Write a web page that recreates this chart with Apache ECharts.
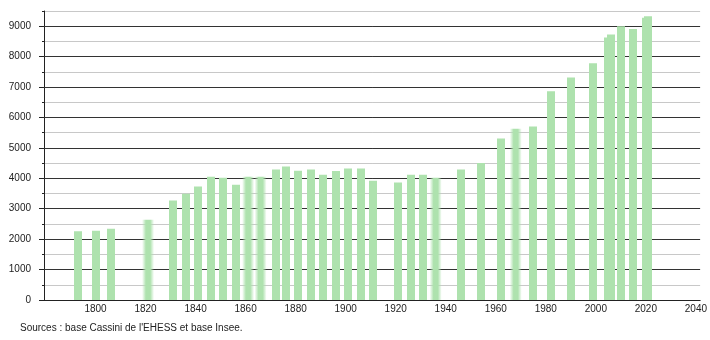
<!DOCTYPE html>
<html>
<head>
<meta charset="utf-8">
<script src="https://cdn.jsdelivr.net/npm/echarts@6/dist/echarts.min.js"></script>
<style>
html,body{margin:0;padding:0;background:#fff;}
#chart{width:710px;height:340px;}
</style>
</head>
<body>
<div id="chart"></div>
<script>
// Data
const years = [1793,1800,1806,1821,1831,1836,1841,1846,1851,1856,1861,1866,1872,1876,1881,1886,1891,1896,1901,1906,1911,1921,1926,1931,1936,1946,1954,1962,1968,1975,1982,1990,1999,2005,2006,2010,2015,2020,2021];
const population = [2260,2280,2340,2640,3270,3490,3730,4050,4020,3790,4050,4050,4290,4390,4250,4290,4120,4240,4320,4320,3920,3860,4120,4120,4020,4290,4500,5310,5630,5700,6860,7310,7780,8625,8730,9000,8910,9280,9330];
const fadedYears = [1821,1861,1866,1936,1968];
const xTickLabels = [1800,1820,1840,1860,1880,1900,1920,1940,1960,1980,2000,2020,2040];
const yMajorTicks = [0,1000,2000,3000,4000,5000,6000,7000,8000,9000];
const yMinorTicks = [500,1500,2500,3500,4500,5500,6500,7500,8500,9500];
const sourceText = "Sources : base Cassini de l'EHESS et base Insee.";

const solid = 'rgba(174,226,174,1)';
const clear = 'rgba(174,226,174,0)';
// 12px wide bar slot: normal bars are a hard-edged 8px core, faded bars have soft edges
const normalColor = {
  type: 'linear', x: 0, y: 0, x2: 1, y2: 0,
  colorStops: [
    {offset: 0, color: clear}, {offset: 0.1667, color: clear},
    {offset: 0.1667, color: solid}, {offset: 0.8333, color: solid},
    {offset: 0.8333, color: clear}, {offset: 1, color: clear}
  ]
};
const fadedColor = {
  type: 'linear', x: 0, y: 0, x2: 1, y2: 0,
  colorStops: [
    {offset: 0, color: clear},
    {offset: 0.32, color: solid},
    {offset: 0.68, color: solid},
    {offset: 1, color: clear}
  ]
};

const barData = years.map((y, i) => ({
  value: [y, population[i]],
  itemStyle: { color: fadedYears.includes(y) ? fadedColor : normalColor }
}));

const chart = echarts.init(document.getElementById('chart'), null, {renderer: 'canvas'});
const font = 'Liberation Sans, Arial, sans-serif';
chart.setOption({
  animation: false,
  backgroundColor: '#fff',
  grid: { left: 44, right: 9, top: 11, bottom: 40, containLabel: false },
  xAxis: {
    type: 'value',
    min: 1779.4,
    max: 2041.7,
    axisLine: { show: true, lineStyle: { color: '#222', width: 1 } },
    axisTick: { show: false },
    splitLine: { show: false },
    axisLabel: {
      customValues: xTickLabels,
      color: '#222', fontFamily: font, fontSize: 10, margin: 4,
      formatter: v => String(v)
    },
    z: 4
  },
  yAxis: [{
    // minor grid: light lines and short ticks at the 500s
    type: 'value',
    min: 0, max: 9500, interval: 500,
    axisLine: { show: true, lineStyle: { color: '#222', width: 1 } },
    axisTick: { show: true, customValues: yMinorTicks, length: 2, lineStyle: { color: '#222' } },
    axisLabel: { show: false },
    splitLine: { show: true, lineStyle: { color: '#c8c8c8', width: 1 } },
    z: 0
  }, {
    // major grid: dark lines, long ticks and labels at the 1000s
    type: 'value',
    position: 'left',
    min: 0, max: 9500, interval: 500,
    axisLine: { show: false },
    axisTick: { show: true, customValues: yMajorTicks, length: 5, lineStyle: { color: '#222' } },
    axisLabel: {
      customValues: yMajorTicks,
      color: '#222', fontFamily: font, fontSize: 10, margin: 13,
      formatter: v => String(v)
    },
    splitLine: { show: true, lineStyle: { color: '#333333', width: 1 } },
    z: 1
  }],
  series: [{
    type: 'bar',
    yAxisIndex: 0,
    barWidth: 12,
    data: barData,
    z: 3
  }],
  graphic: [{
    type: 'text',
    left: 20, top: 323,
    style: { text: sourceText, fill: '#222', font: '10px ' + font }
  }]
});
</script>
</body>
</html>
